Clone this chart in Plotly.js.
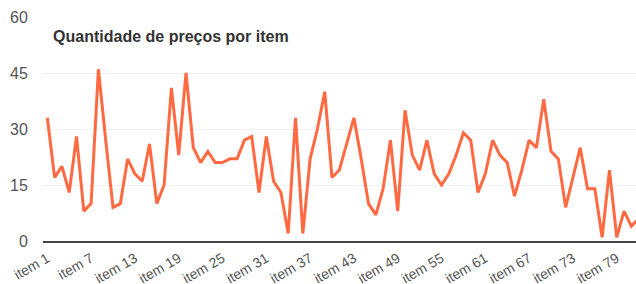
<!DOCTYPE html>
<html>
<head>
<meta charset="utf-8">
<script src="https://cdn.plot.ly/plotly-3.0.1.min.js"></script>
<style>
html,body{margin:0;padding:0;background:#fff;}
#chart{width:636px;height:284px;}
</style>
</head>
<body>
<div id="chart"></div>
<script>
var categories = ['item 1','item 2','item 3','item 4','item 5','item 6','item 7','item 8','item 9','item 10',
  'item 11','item 12','item 13','item 14','item 15','item 16','item 17','item 18','item 19','item 20',
  'item 21','item 22','item 23','item 24','item 25','item 26','item 27','item 28','item 29','item 30',
  'item 31','item 32','item 33','item 34','item 35','item 36','item 37','item 38','item 39','item 40',
  'item 41','item 42','item 43','item 44','item 45','item 46','item 47','item 48','item 49','item 50',
  'item 51','item 52','item 53','item 54','item 55','item 56','item 57','item 58','item 59','item 60',
  'item 61','item 62','item 63','item 64','item 65','item 66','item 67','item 68','item 69','item 70',
  'item 71','item 72','item 73','item 74','item 75','item 76','item 77','item 78','item 79','item 80',
  'item 81','item 82'];

var priceCounts = [33,17,20,13,28,8,10,46,27,9,
  10,22,18,16,26,10,15,41,23,45,
  25,21,24,21,21,22,22,27,28,13,
  28,16,13,2,33,2,22,30,40,17,
  19,26,33,22,10,7,14,27,8,35,
  23,19,27,18,15,18,23,29,27,13,
  18,27,23,21,12,19,27,25,38,24,
  22,9,17,25,14,14,1,19,1,8,
  4,6];

var xTickLabels = ['item 1','item 7','item 13','item 19','item 25','item 31','item 37','item 43',
  'item 49','item 55','item 61','item 67','item 73','item 79'];
var yTickValues = [0,15,30,45,60];

var trace = {
  type: 'scatter',
  mode: 'lines',
  x: categories,
  y: priceCounts,
  line: {color: '#ff6a42', width: 3},
  hoverinfo: 'x+y'
};

var layout = {
  width: 636,
  height: 284,
  margin: {l: 43, r: 0, t: 17, b: 43, pad: 0},
  paper_bgcolor: '#ffffff',
  plot_bgcolor: '#ffffff',
  font: {family: '"Liberation Sans", Arial, sans-serif', color: '#555555', size: 14},
  showlegend: false,
  title: {
    text: 'Quantidade de preços por item',
    font: {family: '"Liberation Sans", Arial, sans-serif', size: 16, color: '#333333', weight: 'bold'},
    xref: 'paper', x: 0.017, xanchor: 'left',
    yref: 'container', y: 0.873, yanchor: 'middle'
  },
  xaxis: {
    type: 'category',
    range: [-0.59, 80.64],
    tickmode: 'array',
    tickvals: xTickLabels,
    ticktext: xTickLabels,
    tickangle: -30,
    tickfont: {size: 14, color: '#555555'},
    ticks: 'outside',
    ticklen: 2,
    tickcolor: 'rgba(0,0,0,0)',
    showgrid: false,
    showline: true,
    linecolor: '#444444',
    linewidth: 2,
    zeroline: false,
    fixedrange: true
  },
  yaxis: {
    range: [0, 60],
    tickmode: 'array',
    tickvals: yTickValues,
    ticktext: yTickValues.map(String),
    tickfont: {size: 16, color: '#555555'},
    ticks: 'outside',
    ticklen: 11,
    tickcolor: 'rgba(0,0,0,0)',
    showgrid: true,
    gridcolor: '#f0f0f0',
    gridwidth: 1,
    zeroline: false,
    showline: false,
    fixedrange: true
  }
};

Plotly.newPlot('chart', [trace], layout, {displayModeBar: false, staticPlot: true});
</script>
</body>
</html>
